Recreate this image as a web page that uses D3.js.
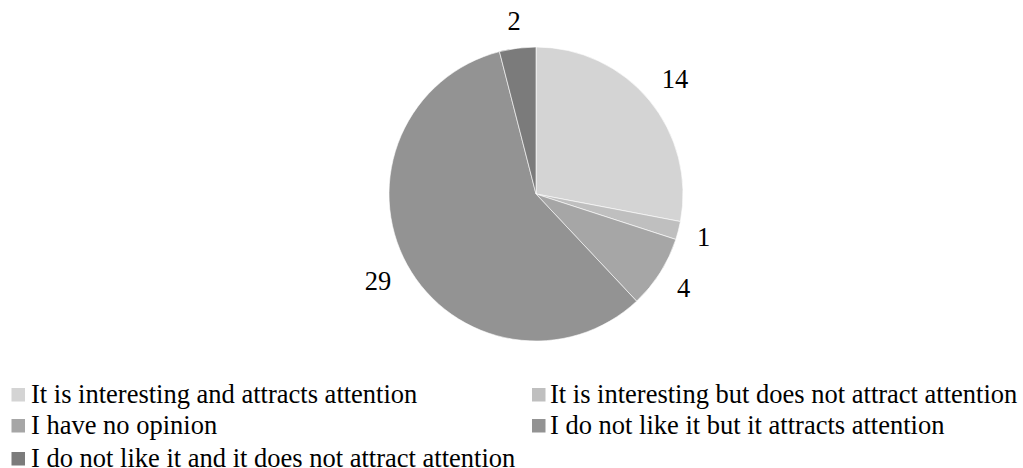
<!DOCTYPE html>
<html>
<head>
<meta charset="utf-8">
<script src="https://cdn.jsdelivr.net/npm/d3@7"></script>
<style>
  html, body { margin: 0; padding: 0; background: #fff; }
  svg { display: block; }
  text { font-family: "Liberation Serif", "Times New Roman", serif; fill: #000; }
</style>
</head>
<body>
<svg id="chart" width="1023" height="468"></svg>
<script>
// Survey answers and counts
const categories = [
  "It is interesting and attracts attention",
  "It is interesting but does not attract attention",
  "I have no opinion",
  "I do not like it but it attracts attention",
  "I do not like it and it does not attract attention"
];
const counts = [14, 1, 4, 29, 2];
const sliceColors = ["#d4d4d4", "#bfbfbf", "#a6a6a6", "#939393", "#7b7b7b"];

const W = 1023, H = 468;
const cx = 536, cy = 194, radius = 147;
const labelGap = 17.5;
const fontSize = 26.5;
const capH = 0.68 * fontSize;

const svg = d3.select("#chart");

const data = categories.map((c, i) => ({ name: c, value: counts[i], color: sliceColors[i] }));

const pie = d3.pie().value(d => d.value).sort(null);
const arcs = pie(data);
const arc = d3.arc().innerRadius(0).outerRadius(radius);

const g = svg.append("g").attr("transform", `translate(${cx},${cy})`);

g.selectAll("path.slice")
  .data(arcs)
  .join("path")
  .attr("class", "slice")
  .attr("d", arc)
  .attr("fill", d => d.data.color)
  .attr("stroke", "#ffffff")
  .attr("stroke-width", 0.6);

// Value labels placed just outside the rim along each slice's mid-angle
const labels = g.selectAll("text.value")
  .data(arcs)
  .join("text")
  .attr("class", "value")
  .attr("font-size", fontSize)
  .attr("text-anchor", "middle")
  .text(d => d.data.value);

labels.each(function(d) {
  const w = this.getComputedTextLength();
  const a = (d.startAngle + d.endAngle) / 2;
  const ux = Math.sin(a), uy = -Math.cos(a);
  const half = Math.abs(ux) * w / 2 + Math.abs(uy) * capH / 2;
  const dist = radius + labelGap + half;
  d3.select(this)
    .attr("x", ux * dist)
    .attr("y", uy * dist + capH / 2);
});

// Legend: two columns, filled left to right
const legendX = [11.5, 532];
const legendTextX = [31, 550];
const legendY = [388, 419, 452];
const sw = 13.5;

const legend = svg.append("g").attr("class", "legend");
const items = legend.selectAll("g.item")
  .data(data)
  .join("g")
  .attr("class", "item");

items.append("rect")
  .attr("x", (d, i) => legendX[i % 2])
  .attr("y", (d, i) => legendY[Math.floor(i / 2)])
  .attr("width", sw)
  .attr("height", sw)
  .attr("fill", d => d.color);

items.append("text")
  .attr("x", (d, i) => legendTextX[i % 2])
  .attr("y", (d, i) => legendY[Math.floor(i / 2)] + 14.5)
  .attr("font-size", fontSize)
  .text(d => d.name);
</script>
</body>
</html>
